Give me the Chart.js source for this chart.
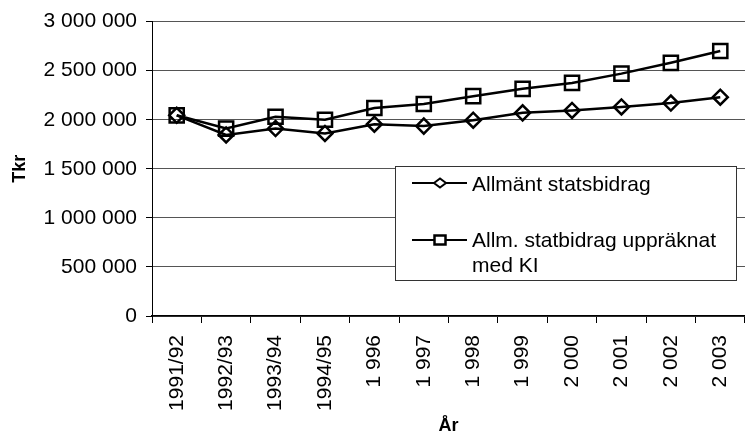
<!DOCTYPE html>
<html>
<head>
<meta charset="utf-8">
<script src="https://cdn.jsdelivr.net/npm/chart.js@4.4.1/dist/chart.umd.min.js"></script>
<style>
  html, body { margin: 0; padding: 0; background: #fff; overflow: hidden; }
  #wrap { position: absolute; left: 0; top: 0; width: 758px; height: 437px; }
</style>
</head>
<body>
<div id="wrap"><canvas id="c" width="758" height="437"></canvas></div>
<script>
const categories = ['1991/92','1992/93','1993/94','1994/95','1 996','1 997','1 998','1 999','2 000','2 001','2 002','2 003'];
const allmantStatsbidrag = [2045000,1845000,1910000,1860000,1955000,1935000,1995000,2070000,2095000,2130000,2170000,2230000];
const uppraknatMedKI = [2045000,1910000,2030000,2000000,2120000,2160000,2240000,2315000,2375000,2470000,2580000,2700000];
const seriesNames = ['Allmänt statsbidrag', ['Allm. statbidrag uppräknat', 'med KI']];
const yTickMin = 0, yTickMax = 3000000, yTickStep = 500000;

const FONT = "'Liberation Sans', Arial, sans-serif";

function fmt(v) { return String(v).replace(/\B(?=(\d{3})+(?!\d))/g, ' '); }

const legendPlugin = {
  id: 'boxLegend',
  afterDraw(chart) {
    const ctx = chart.ctx;
    ctx.save();
    ctx.fillStyle = '#fff';
    ctx.fillRect(395, 166, 342, 115);
    ctx.strokeStyle = '#333';
    ctx.lineWidth = 1;
    ctx.strokeRect(395.5, 166.5, 341, 114);
    ctx.strokeStyle = '#000';
    ctx.lineWidth = 2;
    const rows = [183, 240];
    rows.forEach(y => {
      ctx.beginPath(); ctx.moveTo(412, y); ctx.lineTo(467, y); ctx.stroke();
    });
    ctx.fillStyle = '#fff';
    ctx.lineWidth = 2;
    ctx.beginPath();
    ctx.moveTo(440 - 6, rows[0]); ctx.lineTo(440, rows[0] - 4.5);
    ctx.lineTo(440 + 6, rows[0]); ctx.lineTo(440, rows[0] + 4.5); ctx.closePath();
    ctx.fill(); ctx.stroke();
    ctx.lineWidth = 2.5;
    ctx.beginPath();
    ctx.rect(440 - 5.5, rows[1] - 4.5, 11, 9);
    ctx.fill(); ctx.stroke();
    ctx.fillStyle = '#000';
    ctx.font = '21px ' + FONT;
    ctx.textBaseline = 'alphabetic';
    ctx.textAlign = 'left';
    ctx.fillText(seriesNames[0], 472, 191);
    ctx.fillText(seriesNames[1][0], 472, 247);
    ctx.fillText(seriesNames[1][1], 472, 272);
    ctx.restore();
  }
};

const chart = new Chart(document.getElementById('c'), {
  type: 'line',
  data: {
    labels: categories,
    datasets: [
      {
        label: seriesNames[0],
        data: allmantStatsbidrag,
        borderColor: '#000',
        borderWidth: 2.5,
        pointStyle: 'rectRot',
        pointRadius: 7.5,
        pointBorderWidth: 2.5,
        pointBackgroundColor: 'rgba(0,0,0,0)',
        pointBorderColor: '#000',
        tension: 0
      },
      {
        label: seriesNames[1].join(' '),
        data: uppraknatMedKI,
        borderColor: '#000',
        borderWidth: 2.5,
        pointStyle: 'rect',
        pointRadius: 10,
        pointBorderWidth: 2.5,
        pointBackgroundColor: 'rgba(0,0,0,0)',
        pointBorderColor: '#000',
        tension: 0
      }
    ]
  },
  options: {
    responsive: false,
    devicePixelRatio: 1,
    animation: false,
    layout: { padding: { left: 0, right: 0, top: 14, bottom: 0 } },
    plugins: { legend: { display: false }, tooltip: { enabled: false } },
    scales: {
      x: {
        offset: true,
        grid: { drawOnChartArea: false, drawTicks: true, tickLength: 7, offset: true, tickColor: '#000', lineWidth: 1 },
        border: { display: true, color: '#000', width: 1.5 },
        ticks: { autoSkip: false, minRotation: 90, maxRotation: 90, padding: 12, color: '#000', font: { family: FONT, size: 21 } },
        title: { display: true, text: 'År', color: '#000', font: { family: FONT, size: 18, weight: 'bold' }, padding: { top: 0, bottom: 0 } },
        afterFit(scale) { scale.height = 121; }
      },
      y: {
        min: yTickMin, max: yTickMax,
        grid: { color: '#555', lineWidth: 1, drawTicks: true, tickLength: 6, tickColor: '#000' },
        border: { display: true, color: '#000', width: 1 },
        ticks: { stepSize: yTickStep, padding: 9, color: '#000', font: { family: FONT, size: 21 }, callback: v => fmt(v) },
        title: { display: true, text: 'Tkr', color: '#000', font: { family: FONT, size: 18, weight: 'bold' }, padding: { top: 9, bottom: 0 } },
        afterFit(scale) { scale.width = 152; }
      }
    }
  },
  plugins: [legendPlugin]
});

// nudge layout so the plot area spans y 18..316
const pad = chart.options.layout.padding;
const dTop = chart.chartArea.top - 18;
const dBottom = chart.chartArea.bottom - 316;
if (dTop !== 0 || dBottom !== 0) {
  pad.top = Math.max(0, pad.top - dTop);
  pad.bottom = Math.max(0, pad.bottom + dBottom);
  chart.update();
}
</script>
</body>
</html>
